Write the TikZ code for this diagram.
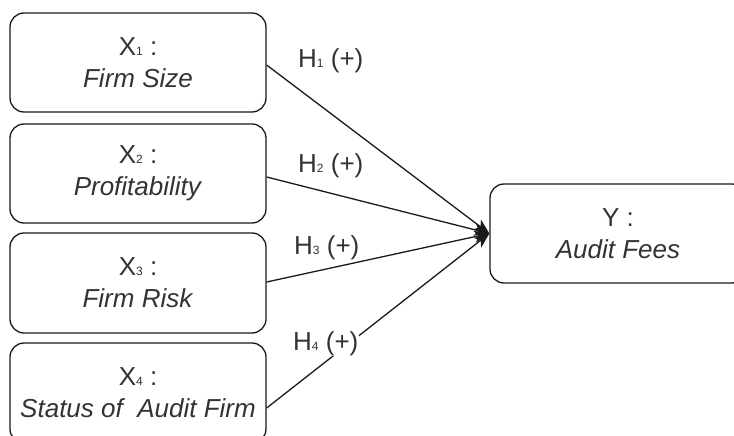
\documentclass[tikz,border=0pt]{standalone}
\usepackage{fontspec}
\setmainfont{Liberation Sans}
\usetikzlibrary{arrows.meta}
\definecolor{txt}{HTML}{333333}
\definecolor{edge}{HTML}{1A1A1A}
\newcommand{\subd}[1]{{\fontsize{12}{12}\selectfont #1}}
\tikzset{
  varbox/.style={draw=edge, line width=1.3pt, rounded corners=14pt, minimum width=256pt, minimum height=99pt, inner sep=0pt, align=center, text=txt, font=\fontsize{26}{32}\selectfont},
  link/.style={draw=edge, line width=1.3pt, -{Stealth[length=15pt,width=12pt,inset=4pt]}},
  hlabel/.style={anchor=base west, text=txt, inner sep=1pt, font=\fontsize{26}{32}\selectfont}
}
\begin{document}
\begin{tikzpicture}[x=1pt,y=-1pt]
\clip (0,0) rectangle (734,436);
\fill[white] (0,0) rectangle (734,436);
\node[varbox] (b1) at (138,62.5) {X\subd{1} :\\\textit{Firm Size}};
\node[varbox] (b2) at (138,173.5) {X\subd{2} :\\\textit{Profitability}};
\node[varbox, minimum height=100pt] (b3) at (138,283) {X\subd{3} :\\\textit{Firm Risk}};
\node[varbox, minimum height=100pt] (b4) at (138,393) {X\subd{4} :\\\textit{Status of\ \ Audit Firm}};
\node[varbox] (y) at (618,233.5) {Y :\\\textit{Audit Fees}};
\coordinate (s1) at ([yshift=-2.5pt]b1.east);
\coordinate (s2) at ([yshift=-3.5pt]b2.east);
\coordinate (s3) at ([yshift=1pt]b3.east);
\coordinate (s4) at ([yshift=-15pt]b4.east);
\draw[link] (s1) -- (y.west);
\draw[link] (s2) -- (y.west);
\draw[link] (s3) -- (y.west);
\draw[link] (s4) -- (y.west);
\node[hlabel] (h1) at (297,68) {H\subd{1} (+)};
\node[hlabel] (h2) at (297,172) {H\subd{2} (+)};
\node[hlabel] (h3) at (293,254) {H\subd{3} (+)};
\node[hlabel, fill=white] (h4) at (292,350) {H\subd{4} (+)};
\end{tikzpicture}
\end{document}
